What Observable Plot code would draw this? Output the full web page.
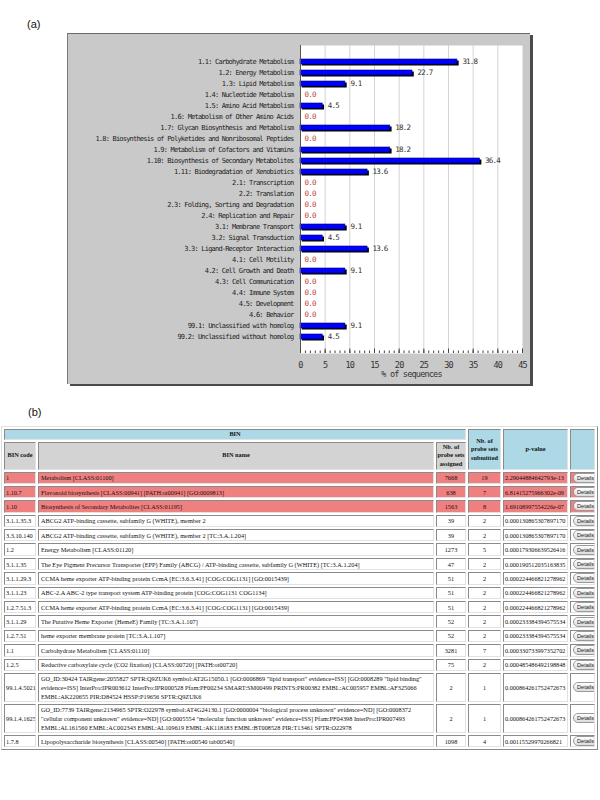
<!DOCTYPE html>
<html><head><meta charset="utf-8">
<script src="https://cdn.jsdelivr.net/npm/d3@7"></script>
<script src="https://cdn.jsdelivr.net/npm/@observablehq/plot@0.6"></script>
<style>
html,body{margin:0;padding:0;background:#fff;}
#page{position:relative;width:600px;height:800px;overflow:hidden;}
.lab{position:absolute;font-family:"Liberation Sans",Arial,sans-serif;font-size:11px;color:#111;}
#panel{position:absolute;left:67px;top:33px;width:462px;height:350px;background:#c9c9c9;border-top:1px solid #6a6a6a;border-left:1px solid #7a7a7a;box-shadow:3px 2px 0 #4a4a4a;}
#panel svg{display:block;}
#tbl{position:absolute;left:1px;top:426px;width:597px;border-collapse:separate;border-spacing:2px;border:1px solid;border-color:#e0e0e0 #8a8a8a #8a8a8a #e0e0e0;table-layout:fixed;font-family:"Liberation Serif","Times New Roman",serif;font-size:6.3px;color:#111;}
#tbl td,#tbl th{border:1px solid;border-color:#8a8a8a #e2e2e2 #e2e2e2 #8a8a8a;padding:0 2px;line-height:9px;height:10.4px;overflow:hidden;}
#tbl th{font-weight:bold;text-align:center;padding:0;font-size:6.3px;line-height:8.5px;}
#tbl th.blue{background:#add8e6;}
#tbl th.grey{background:#d3d3d3;}
#tbl tr.hi td{background:#f08080;}
#tbl td.p{padding:0 0 0 1px;white-space:nowrap;font-size:6.2px;}
#tbl td.code{padding:0 0 0 1px;white-space:nowrap;}
.c{text-align:center;}
.btn{display:inline-block;border:1px solid #9a9a9a;border-radius:5px;padding:0 3px;height:8px;line-height:8px;font-family:"Liberation Sans",Arial,sans-serif;font-size:5.6px;background:linear-gradient(#ffffff,#dcdcdc);color:#222;}
</style></head>
<body><div id="page">
<div class="lab" style="left:27px;top:18px;">(a)</div>
<div id="panel"></div>
<div class="lab" style="left:28px;top:406px;">(b)</div>
<div id="tablewrap"></div>
</div>
<script>
// ---- chart (a) data ----
const categories = [
"1.1: Carbohydrate Metabolism",
"1.2: Energy Metabolism",
"1.3: Lipid Metabolism",
"1.4: Nucleotide Metabolism",
"1.5: Amino Acid Metabolism",
"1.6: Metabolism of Other Amino Acids",
"1.7: Glycan Biosynthesis and Metabolism",
"1.8: Biosynthesis of Polyketides and Nonribosomal Peptides",
"1.9: Metabolism of Cofactors and Vitamins",
"1.10: Biosynthesis of Secondary Metabolites",
"1.11: Biodegradation of Xenobiotics",
"2.1: Transcription",
"2.2: Translation",
"2.3: Folding, Sorting and Degradation",
"2.4: Replication and Repair",
"3.1: Membrane Transport",
"3.2: Signal Transduction",
"3.3: Ligand-Receptor Interaction",
"4.1: Cell Motility",
"4.2: Cell Growth and Death",
"4.3: Cell Communication",
"4.4: Immune System",
"4.5: Development",
"4.6: Behavior",
"99.1: Unclassified with homolog",
"99.2: Unclassified without homolog"];
const percents = [31.8,22.7,9.1,0,4.5,0,18.2,0,18.2,36.4,13.6,0,0,0,0,9.1,4.5,13.6,0,9.1,0,0,0,0,9.1,4.5];
const xTicks = [0,5,10,15,20,25,30,35,40,45];
const xLabel = "% of sequences";

// ---- table (b) data ----
const binCodes = ["1","1.10.7","1.10","3.1.1.35.3","3.3.10.140","1.2","3.1.1.35","3.1.1.29.3","3.1.1.23","1.2.7.51.3","3.1.1.29","1.2.7.51","1.1","1.2.5","99.1.4.5021","99.1.4.1625","1.7.8"];
const binNames = [
"Metabolism [CLASS:01100]",
"Flavonoid biosynthesis [CLASS:00941] [PATH:ot00941] [GO:0009813]",
"Biosynthesis of Secondary Metabolites [CLASS:01195]",
"ABCG2 ATP-binding cassette, subfamily G (WHITE), member 2",
"ABCG2 ATP-binding cassette, subfamily G (WHITE), member 2 [TC:3.A.1.204]",
"Energy Metabolism [CLASS:01120]",
"The Eye Pigment Precursor Transporter (EPP) Family (ABCG) / ATP-binding cassette, subfamily G (WHITE) [TC:3.A.1.204]",
"CCMA heme exporter ATP-binding protein CcmA [EC:3.6.3.41] [COG:COG1131] [GO:0015439]",
"ABC-2.A ABC-2 type transport system ATP-binding protein [COG:COG1131 COG1134]",
"CCMA heme exporter ATP-binding protein CcmA [EC:3.6.3.41] [COG:COG1131] [GO:0015439]",
"The Putative Heme Exporter (HemeE) Family [TC:3.A.1.107]",
"heme exporter membrane protein [TC:3.A.1.107]",
"Carbohydrate Metabolism [CLASS:01110]",
"Reductive carboxylate cycle (CO2 fixation) [CLASS:00720] [PATH:ot00720]",
"GO_ID:30424 TAIRgene:2055827 SPTR:Q9ZUK6 symbol:AT2G15050.1 [GO:0006869 \"lipid transport\" evidence=ISS] [GO:0008289 \"lipid binding\" evidence=ISS] InterPro:IPR003612 InterPro:IPR000528 Pfam:PF00234 SMART:SM00499 PRINTS:PR00382 EMBL:AC005957 EMBL:AF325066 EMBL:AK220655 PIR:D84524 HSSP:P19656 SPTR:Q9ZUK6",
"GO_ID:7739 TAIRgene:2134965 SPTR:O22978 symbol:AT4G24130.1 [GO:0000004 \"biological process unknown\" evidence=ND] [GO:0008372 \"cellular component unknown\" evidence=ND] [GO:0005554 \"molecular function unknown\" evidence=ISS] Pfam:PF04398 InterPro:IPR007493 EMBL:AL161560 EMBL:AC002343 EMBL:AL109619 EMBL:AK118183 EMBL:BT008528 PIR:T13461 SPTR:O22978",
"Lipopolysaccharide biosynthesis [CLASS:00540] [PATH:ot00540 tab00540]"];
const assigned = [7668,638,1563,39,39,1273,47,51,51,51,52,52,3281,75,2,2,1098];
const submitted = [19,7,8,2,2,5,2,2,2,2,2,2,7,2,1,1,4];
const pValues = ["2.29044884642793e-13","6.81415275966302e-09","1.69108997554226e-07","0.000130865307897170","0.000130865307897170","0.000179306639526416","0.000190512035163835","0.000224466821278962","0.000224466821278962","0.000224466821278962","0.000233384394575534","0.000233384394575534","0.000330733997352702","0.000485486492198848","0.000864261752472673","0.000864261752472673","0.00115529970266821"];
const highlightBelow = 1e-5;

// ---- build chart ----
const rows = categories.map((c, i) => ({category: c, value: percents[i]}));
const nonzero = rows.filter(d => d.value > 0);
const zeros = rows.filter(d => d.value === 0);

const chart = Plot.plot({
  width: 462, height: 350,
  marginLeft: 232, marginRight: 8, marginTop: 11, marginBottom: 31,
  style: {background: "transparent", fontFamily: "'DejaVu Sans Mono', monospace", fontSize: "7px", letterSpacing: "-0.8px", color: "#222"},
  x: {domain: [0, 45]},
  y: {domain: categories, padding: 0.52, label: null},
  marks: [
    Plot.frame({fill: "white", stroke: null}),
    Plot.gridX({ticks: xTicks.slice(1, -1), stroke: "#d4d4d4", strokeOpacity: 1}),
    Plot.barX(nonzero, {x: "value", y: "category", fill: "black", dx: 1.8, dy: 1.5}),
    Plot.barX(nonzero, {x: "value", y: "category", fill: "#0000ff", stroke: "#00006a", strokeWidth: 0.6}),
    Plot.text(nonzero, {x: "value", y: "category", text: d => d.value.toFixed(1), dx: 5, textAnchor: "start", fill: "#333", fontSize: 7.5}),
    Plot.text(zeros, {x: "value", y: "category", text: d => d.value.toFixed(1), dx: 4, textAnchor: "start", fill: "#c04040", fontSize: 7.5}),
    Plot.ruleX([0], {stroke: "#555"}),
    Plot.axisY({tickSize: 0, tickPadding: 7, fill: "#222", label: null}),
    Plot.axisX({ticks: d3.range(0, 46, 1), tickSize: -2.5, text: null, stroke: "#444", label: null}),
    Plot.axisX({ticks: xTicks, tickSize: -4.5, text: null, stroke: "#444", label: null}),
    Plot.axisX({ticks: xTicks, tickSize: 0, tickPadding: 8, fontSize: 8.5, fill: "#333",
      label: xLabel, labelAnchor: "center", labelOffset: 23, labelArrow: "none"})
  ]
});
document.getElementById("panel").appendChild(chart);

// ---- build table ----
const wrap = document.getElementById("tablewrap");
let html = '<table id="tbl"><colgroup><col style="width:32px"><col style="width:396px"><col style="width:30px"><col style="width:33px"><col style="width:65px"><col style="width:25px"></colgroup>';
html += '<tr><th class="blue" colspan="3" style="height:8px">BIN</th><th class="blue" rowspan="2">Nb. of<br>probe sets<br>submitted</th><th class="blue" rowspan="2">p-value</th><th class="blue" rowspan="2"></th></tr>';
html += '<tr><th class="grey" style="height:26px">BIN code</th><th class="grey">BIN name</th><th class="grey">Nb. of<br>probe sets<br>assigned</th></tr>';
binCodes.forEach((code, i) => {
  const hi = parseFloat(pValues[i]) < highlightBelow;
  html += `<tr${hi ? ' class="hi"' : ''}><td class="code">${code}</td><td>${binNames[i]}</td><td class="c">${assigned[i]}</td><td class="c">${submitted[i]}</td><td class="p">${pValues[i]}</td><td class="c"><span class="btn">Details</span></td></tr>`;
});
html += '</table>';
wrap.innerHTML = html;
</script>
</body></html>
